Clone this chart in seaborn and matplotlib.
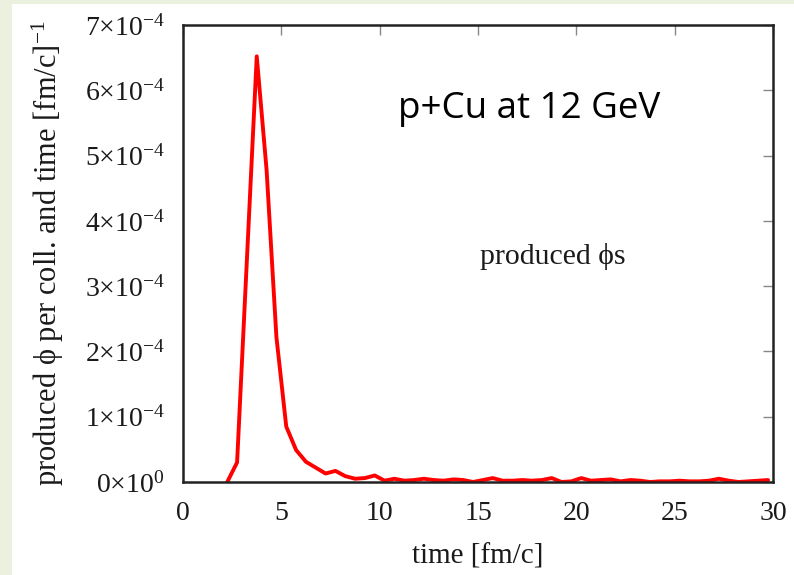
import numpy as np
import pandas as pd
import matplotlib
matplotlib.use("Agg")
import matplotlib.pyplot as plt
import seaborn as sns
from matplotlib.patches import Rectangle

# ---- data ----
time = [2.25, 2.75, 3.75, 4.25, 4.75, 5.25, 5.75, 6.25, 6.75, 7.25, 7.75, 8.25, 8.75,
        9.25, 9.75, 10.25, 10.75, 11.25, 11.75, 12.25, 12.75, 13.25, 13.75, 14.25, 14.75,
        15.25, 15.75, 16.25, 16.75, 17.25, 17.75, 18.25, 18.75, 19.25, 19.75, 20.25,
        20.75, 21.25, 21.75, 22.25, 22.75, 23.25, 23.75, 24.25, 24.75, 25.25, 25.75,
        26.25, 26.75, 27.25, 27.75, 28.25, 28.75, 29.25, 29.75]
produced = [0.0, 0.30, 6.52, 4.78, 2.22, 0.85, 0.49, 0.31, 0.22, 0.13, 0.17, 0.09, 0.05,
            0.06, 0.10, 0.02, 0.05, 0.02, 0.03, 0.05, 0.03, 0.02, 0.04, 0.03, 0.00,
            0.03, 0.06, 0.02, 0.02, 0.03, 0.02, 0.03, 0.06, 0.00, 0.01, 0.06,
            0.02, 0.03, 0.04, 0.01, 0.03, 0.02, 0.00, 0.01, 0.01, 0.02, 0.01,
            0.01, 0.02, 0.05, 0.02, 0.00, 0.01, 0.02, 0.03]
produced = [v * 1e-4 for v in produced]
xticks = [0, 5, 10, 15, 20, 25, 30]
yticks = [0, 1e-4, 2e-4, 3e-4, 4e-4, 5e-4, 6e-4, 7e-4]
ytick_labels = [r"$0{\times}10^{0}$"] + [r"$%d{\times}10^{-4}$" % i for i in range(1, 8)]

df = pd.DataFrame({"time": time, "produced": produced})

sns.set_theme(style="white")
plt.rcParams["font.family"] = ["Liberation Serif", "DejaVu Serif"]
plt.rcParams["mathtext.fontset"] = "custom"
plt.rcParams["mathtext.rm"] = "Liberation Serif"
plt.rcParams["mathtext.it"] = "Liberation Serif:italic"

fig = plt.figure(figsize=(7.94, 5.75), dpi=100)
fig.patch.set_facecolor("#EBF1DE")
fig.patches.append(Rectangle((12 / 794, 0), 1, 1 - 4 / 575, transform=fig.transFigure,
                             facecolor="white", edgecolor="none", zorder=-1))

ax = fig.add_axes([183 / 794, 93 / 575, 590 / 794, 457 / 575])
sns.lineplot(data=df, x="time", y="produced", ax=ax, color="#FF0000", linewidth=2.8)

ax.set_xlim(0, 30)
ax.set_ylim(0, 7e-4)
ax.set_xticks(xticks)
ax.set_xticklabels([str(t) for t in xticks])
ax.set_yticks(yticks)
ax.set_yticklabels(ytick_labels)
ax.tick_params(axis="both", direction="in", length=7, width=1, color="#888888",
               labelsize=20, top=True, right=True, labelcolor="#1a1a1a")
ax.tick_params(axis="x", pad=14)
ax.tick_params(axis="y", pad=13)
for s in ax.spines.values():
    s.set_color("#222222")
    s.set_linewidth(1.8)

ax.set_xlabel("time [fm/c]", fontsize=21, color="#1a1a1a", labelpad=12)
ax.set_ylabel("produced ϕ per coll. and time [fm/c]$^{-1}$", fontsize=22, color="#1a1a1a",
              labelpad=14)

fig.text(398 / 794, 1 - 118 / 575, "p+Cu at 12 GeV", fontsize=26.5, family="Open Sans",
         va="baseline", ha="left", color="black")
fig.text(553 / 794, 1 - 257 / 575, "produced ϕs", fontsize=21.5, va="center", ha="center",
         color="#1a1a1a")

fig.savefig("out.png", dpi=100, facecolor=fig.get_facecolor())
